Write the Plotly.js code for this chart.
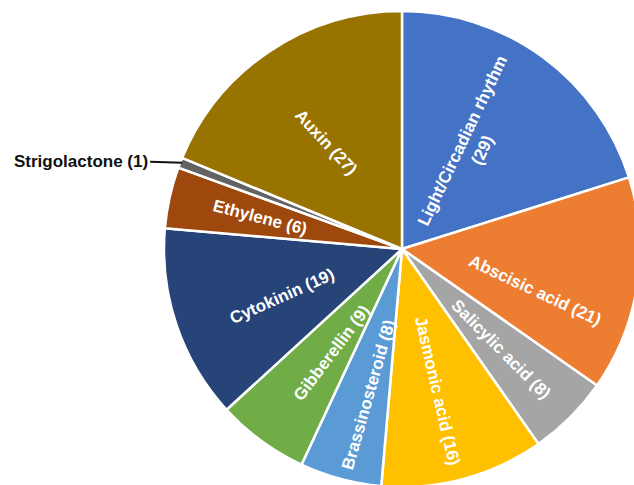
<!DOCTYPE html>
<html>
<head>
<meta charset="utf-8">
<script src="https://cdn.plot.ly/plotly-3.0.1.min.js"></script>
<style>
html,body{margin:0;padding:0;background:#fff;overflow:hidden;width:634px;height:485px;}
#chart{width:700px;height:500px;}
</style>
</head>
<body>
<div id="chart"></div>
<script>
// ---- data ----
const categories = ['Light/Circadian rhythm','Abscisic acid','Salicylic acid','Jasmonic acid','Brassinosteroid','Gibberellin','Cytokinin','Ethylene','Strigolactone','Auxin'];
const counts = [29,21,8,16,8,9,19,6,1,27];
const colors = ['#4472C4','#ED7D31','#A5A5A5','#FFC000','#5B9BD5','#70AD47','#264478','#9E480E','#636363','#997300'];

// ---- label styling (radius fraction, angular nudge, text-angle nudge) ----
const labelRadius = [0.527,0.586,0.592,0.614,0.63,0.53,0.543,0.611,0,0.55];
const labelNudge  = [-2.2,8.75,0.3,1.2,-1.9,-2.3,-2.9,0.2,0,-1.6];
const angleNudge  = [-10.75,16.25,0,2,1,0.75,-5.25,2.1,0,-9.25];
const outsideLabel = 'Strigolactone';

const W = 700, H = 500;
const cx = 402, cy = 249, R = 238;
const FONT = 'Liberation Sans, Arial, sans-serif';

const trace = {
  type:'pie',
  labels: categories,
  values: counts,
  textinfo:'none',
  sort:false,
  direction:'clockwise',
  rotation:0,
  marker:{colors:colors, line:{color:'#ffffff', width:2.5}},
  domain:{x:[(cx-R)/W,(cx+R)/W], y:[1-(cy+R)/H, 1-(cy-R)/H]},
  hoverinfo:'none'
};

const total = counts.reduce((a,b)=>a+b,0);
const annotations = [];
let cum = 0;
categories.forEach((c,i)=>{
  const midDeg = (cum + counts[i]/2)/total*360;
  cum += counts[i];
  if (c === outsideLabel) {
    const a = midDeg*Math.PI/180;
    const ex = cx + R*Math.sin(a), ey = cy - R*Math.cos(a);
    annotations.push({
      x:(ex+2)/W, y:1-ey/H, xref:'paper', yref:'paper',
      text: c+' ('+counts[i]+')',
      showarrow:true, arrowhead:0, arrowwidth:1.8, arrowcolor:'#111',
      ax:-32, ay:-1, xanchor:'right', yanchor:'middle',
      font:{family:FONT, size:17, color:'#111', weight:'bold'}
    });
    return;
  }
  const th = (midDeg + labelNudge[i])*Math.PI/180;
  const r = labelRadius[i]*R;
  const px = cx + r*Math.sin(th), py = cy - r*Math.cos(th);
  let ta = midDeg - 90;
  while (ta > 90) ta -= 180;
  while (ta <= -90) ta += 180;
  ta += angleNudge[i];
  const txt = (i===0) ? c+'<br>('+counts[i]+')' : c+' ('+counts[i]+')';
  annotations.push({
    x:px/W, y:1-py/H, xref:'paper', yref:'paper',
    text: txt, showarrow:false, textangle: ta,
    xanchor:'center', yanchor:'middle',
    font:{family:FONT, size:17, color:'#ffffff', weight:'bold'}
  });
});

const layout = {
  width:W, height:H,
  margin:{l:0,r:0,t:0,b:0},
  paper_bgcolor:'#ffffff',
  showlegend:false,
  annotations: annotations
};

Plotly.newPlot('chart',[trace],layout,{staticPlot:true, displayModeBar:false});
</script>
</body>
</html>
